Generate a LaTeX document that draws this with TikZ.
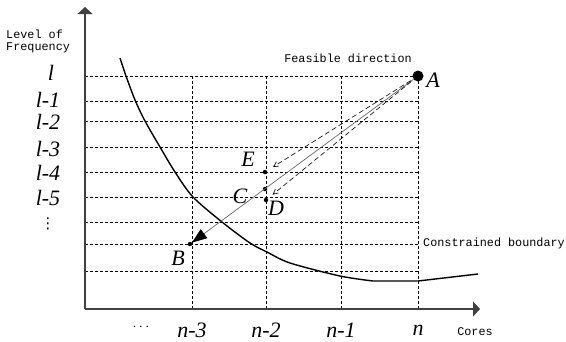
\documentclass[tikz,border=0pt]{standalone}
\usepackage{fontspec}
\setmainfont{Liberation Serif}
\setmonofont{Liberation Mono}
\newfontfamily\symfont{DejaVu Sans}
\usetikzlibrary{arrows.meta, positioning}

\begin{document}
\begin{tikzpicture}[
  x=1pt, y=-1pt,
  axis/.style={line width=1.3pt, black!75, -{Triangle[length=7pt,width=15pt]}},
  gridline/.style={line width=0.7pt, dash pattern=on 3pt off 2pt},
  tick/.style={font=\fontsize{22}{22}\selectfont\itshape, inner sep=0pt},
  note/.style={font=\fontsize{11.8}{13}\selectfont\ttfamily, inner sep=0pt},
  dot/.style={circle, fill, inner sep=0pt, minimum size=5pt},
  boundary/.style={line width=1.4pt},
  move/.style={black!60, line width=0.7pt, -{Triangle[length=15pt,width=11pt,black]}},
  trial/.style={line width=0.6pt, dash pattern=on 5pt off 3pt, -{Straight Barb[length=5pt,width=5pt]}}
]
\useasboundingbox (0,0) rectangle (566,341);

% Axes
\coordinate (O) at (85,309);
\coordinate (ytop) at (85,7);
\coordinate (xend) at (480,309);

% Grid
\foreach \y in {76,101,121,147,172,197,222,244,271}
  \draw[gridline] (85,\y) -- (418,\y);
\foreach \x in {192,266,341,418}
  \draw[gridline] (\x,76) -- (\x,309);

\draw[axis] (O) -- (ytop);
\draw[axis] (O) -- (xend);

% Level labels
\node[note, align=left, anchor=west] (ylab) at (6,41) {Level of\\[-1pt]Frequency};
\node[tick] (l0) at (51,73) {l};
\node[tick] (l1) at (48,100) {l-1};
\node[tick] (l2) at (48,122) {l-2};
\node[tick] (l3) at (48,149) {l-3};
\node[tick] (l4) at (48,173) {l-4};
\node[tick] (l5) at (48,198) {l-5};
\node[font=\fontsize{15}{15}\selectfont\symfont, inner sep=0pt] (l6) at (48,224) {⋮};

% Core labels
\node[font=\fontsize{14}{14}\selectfont] (c0) at (141,327) {$\cdots$};
\node[tick] (c1) at (192,330) {n-3};
\node[tick] (c2) at (266,330) {n-2};
\node[tick] (c3) at (341,330) {n-1};
\node[tick] (c4) at (418,330) {n};
\node[note] (xlab) at (475,332) {Cores};

% Constrained boundary
\draw[boundary] plot[smooth] coordinates {(120,58) (126,76) (135,100) (145,121) (160,147) (175,172) (193,197) (222,222) (250,243) (267,252) (290,263) (340,276) (373,281)} -- (418,281) -- (478,274);
\node[note, anchor=west] (cb) at (423,243) {Constrained boundary};
\node[note] (fd) at (348,58) {Feasible direction};

% Points
\node[dot, minimum size=11pt] (A) at (418,76) {};
\node[dot, minimum size=4.5pt] (B) at (190,244) {};
\node[dot, minimum size=4.5pt] (C) at (265,189) {};
\node[dot, minimum size=4.5pt] (D) at (266,200) {};
\node[dot, minimum size=4.5pt] (E) at (265,172) {};
\node[tick] at (433,80) {A};
\node[tick] at (178,258) {B};
\node[tick] at (240,196) {C};
\node[tick] at (276,208) {D};
\node[tick] at (248,159) {E};

% Search directions
\draw[move] (A) -- (B);
\draw[trial, shorten <=3pt, shorten >=7pt] (A) -- (E);
\draw[trial, shorten <=3pt, shorten >=6pt] (A) -- (D);

\end{tikzpicture}
\end{document}
